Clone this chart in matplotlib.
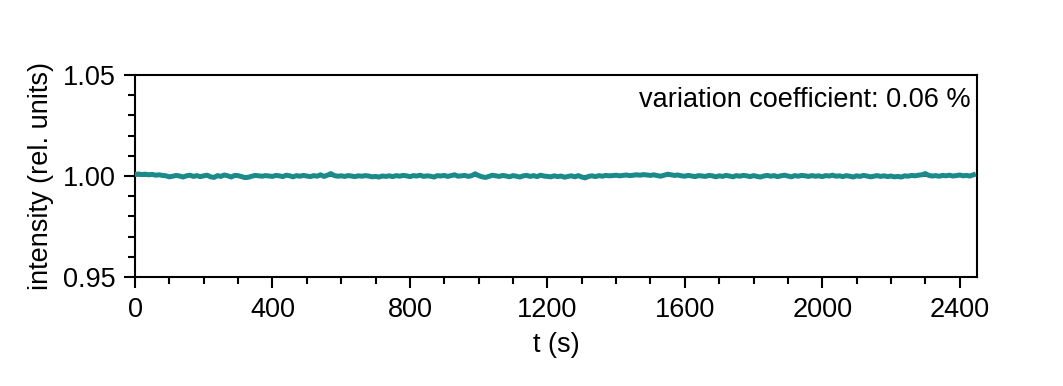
import numpy as np
import matplotlib
matplotlib.use('Agg')
import matplotlib.pyplot as plt
from matplotlib.ticker import MultipleLocator

plt.rcParams['font.family'] = ['Liberation Sans', 'DejaVu Sans']

# 时间 (s)，每 10 s 一个点
t_start = 0
t_step = 10
# 强度 (rel. units)，每行 100 s
intensity = [
    1.0008, 1.0010, 1.0007, 1.0009, 1.0006, 1.0008, 1.0004, 1.0006, 1.0003, 1.0001,
    0.9996, 0.9999, 1.0003, 1.0000, 0.9995, 1.0001, 1.0004, 0.9998, 1.0002, 0.9997,
    1.0001, 1.0004, 0.9996, 0.9993, 1.0002, 0.9998, 1.0005, 1.0001, 0.9995, 1.0003,
    1.0002, 0.9997, 0.9992, 0.9994, 0.9999, 1.0003, 1.0001, 0.9999, 1.0002, 1.0000,
    0.9998, 1.0003, 1.0001, 0.9997, 1.0004, 1.0001, 0.9996, 1.0002, 0.9999, 1.0003,
    1.0000, 0.9997, 1.0002, 0.9999, 1.0006, 0.9998, 1.0004, 1.0012, 1.0002, 0.9999,
    1.0001, 0.9998, 1.0002, 1.0000, 0.9997, 1.0001, 0.9999, 1.0002, 1.0000, 0.9996,
    0.9998, 0.9995, 1.0000, 0.9998, 1.0001, 0.9997, 1.0002, 0.9999, 1.0003, 1.0001,
    0.9997, 1.0002, 1.0000, 1.0004, 0.9998, 1.0001, 0.9999, 0.9995, 1.0002, 1.0000,
    1.0003, 0.9998, 1.0002, 1.0006, 0.9999, 1.0001, 1.0003, 0.9998, 1.0002, 1.0011,
    1.0002, 0.9996, 0.9993, 0.9998, 1.0004, 1.0001, 0.9998, 1.0003, 1.0000, 0.9996,
    1.0002, 0.9999, 0.9995, 1.0001, 1.0003, 0.9998, 1.0002, 0.9997, 1.0004, 1.0000,
    0.9998, 0.9996, 1.0001, 0.9997, 1.0000, 0.9994, 0.9998, 1.0001, 0.9996, 1.0002,
    0.9995, 0.9991, 0.9998, 1.0001, 0.9997, 1.0002, 0.9999, 1.0003, 1.0001, 1.0002,
    1.0004, 1.0001, 1.0003, 1.0005, 1.0002, 1.0004, 1.0006, 1.0004, 1.0007, 1.0005,
    1.0003, 1.0006, 1.0002, 0.9999, 1.0004, 1.0009, 1.0006, 1.0003, 1.0005, 1.0001,
    0.9999, 1.0003, 1.0000, 0.9997, 1.0002, 1.0000, 0.9998, 1.0003, 1.0001, 0.9996,
    1.0001, 0.9998, 1.0003, 1.0000, 0.9996, 1.0002, 0.9999, 1.0003, 1.0001, 0.9997,
    1.0002, 0.9998, 0.9995, 1.0000, 1.0003, 0.9999, 1.0002, 0.9997, 1.0001, 1.0004,
    1.0000, 0.9996, 1.0002, 0.9999, 1.0003, 1.0001, 0.9998, 1.0002, 0.9999, 1.0001,
    0.9997, 1.0002, 1.0000, 1.0004, 0.9999, 1.0001, 0.9997, 1.0002, 0.9999, 0.9995,
    1.0001, 0.9998, 1.0003, 1.0000, 0.9996, 0.9999, 1.0002, 0.9998, 1.0001, 0.9997,
    1.0000, 0.9996, 0.9998, 0.9995, 1.0001, 0.9999, 1.0003, 1.0001, 1.0004, 1.0006,
    1.0012, 1.0003, 1.0000, 1.0002, 0.9999, 1.0003, 1.0001, 1.0004, 1.0000, 1.0002,
    1.0005, 1.0001, 1.0003, 1.0000, 1.0006,
]
# 黑色参考线
ref_t = [0, 400, 800, 1200, 1600, 2000, 2440]
ref_val = [1.0002, 1.0000, 1.0001, 0.9999, 1.0002, 1.0000, 1.0001]

t = t_start + t_step * np.arange(len(intensity))

fig = plt.figure(figsize=(10.63, 3.86), dpi=100)
ax = fig.add_axes([0.127, 0.282, 0.792, 0.524])

ax.plot(ref_t, ref_val, color='black', lw=1.2, zorder=2)
ax.plot(t, intensity, color='#1b8a8a', lw=3.6, zorder=3)

ax.set_xlim(0, 2450)
ax.set_ylim(0.95, 1.05)
ax.set_xticks([0, 400, 800, 1200, 1600, 2000, 2400])
ax.set_yticks([0.95, 1.00, 1.05])
ax.set_yticklabels(['0.95', '1.00', '1.05'])
ax.xaxis.set_minor_locator(MultipleLocator(100))
ax.yaxis.set_minor_locator(MultipleLocator(0.01))
ax.tick_params(which='major', direction='out', length=8, width=1.5, labelsize=19.5,
               top=False, right=False, pad=6)
ax.tick_params(which='minor', direction='out', length=5, width=1.5,
               top=False, right=False)
for s in ax.spines.values():
    s.set_linewidth(1.5)

ax.set_xlabel('t (s)', fontsize=19.5, labelpad=7)
ax.set_ylabel('intensity (rel. units)', fontsize=19.5, labelpad=6)
ax.text(0.992, 0.876, 'variation coefficient: 0.06 %', transform=ax.transAxes,
        ha='right', va='center', fontsize=19.5)

fig.savefig('out.png', dpi=100)
